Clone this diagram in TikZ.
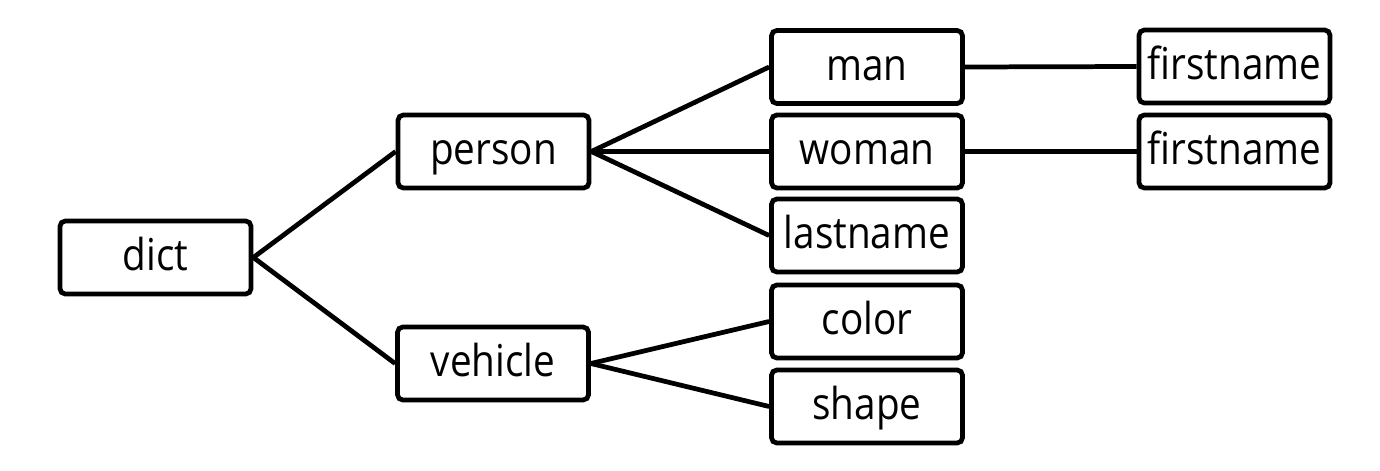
\documentclass[tikz,border=0pt]{standalone}
\usepackage{fontspec}
\setmainfont[FakeStretch=0.88]{Open Sans}

\begin{document}
\begin{tikzpicture}[line width=2.7pt]
  \tikzstyle{key}=[draw,rounded corners=3pt,minimum width=3.82cm,minimum height=1.46cm,inner sep=1pt,text height=0.72cm,text depth=0.2cm,font=\fontsize{25}{30}\selectfont]
  \useasboundingbox (0,0) rectangle (27.6,9.4);
  \foreach \name/\lab/\x/\y in {dict/dict/3.11/4.25,person/person/9.87/6.37,vehicle/vehicle/9.86/2.13,
      man/man/17.34/8.06,woman/woman/17.34/6.37,lastname/lastname/17.34/4.69,
      color/color/17.34/2.97,shape/shape/17.34/1.27,first1/firstname/24.69/8.07,first2/firstname/24.69/6.37}
    \node[key] (K-\name) at (\x,\y) {\lab};
  \foreach \from/\to in {dict/person,dict/vehicle,person/man,person/woman,person/lastname,vehicle/color,vehicle/shape,man/first1,woman/first2}
    \draw (K-\from.east) -- (K-\to.west);
\end{tikzpicture}
\end{document}
